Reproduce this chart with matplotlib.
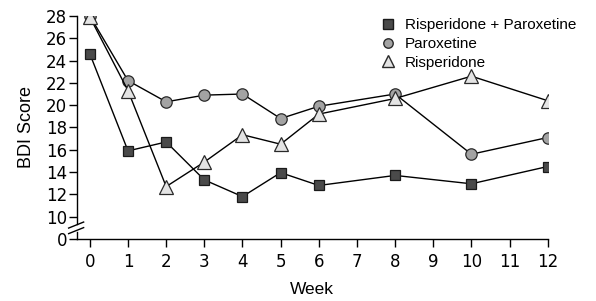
import matplotlib
matplotlib.use("Agg")
import matplotlib.pyplot as plt
from matplotlib.lines import Line2D

plt.rcParams["font.family"] = ["Liberation Sans", "DejaVu Sans"]

# Data
weeks = [0, 1, 2, 3, 4, 5, 6, 8, 10, 12]
combo = [24.6, 15.9, 16.7, 13.3, 11.8, 13.95, 12.8, 13.7, 12.95, 14.5]
parox = [28.0, 22.2, 20.3, 20.9, 21.0, 18.8, 19.9, 21.0, 15.6, 17.1]
risp = [27.9, 21.3, 12.7, 14.9, 17.35, 16.5, 19.2, 20.6, 22.6, 20.4]

labels = ["Risperidone + Paroxetine", "Paroxetine", "Risperidone"]
# y axis is broken: value 0 is drawn at position 8
ytick_pos = [8, 10, 12, 14, 16, 18, 20, 22, 24, 26, 28]
ytick_labels = ["0", "10", "12", "14", "16", "18", "20", "22", "24", "26", "28"]
xticks = list(range(13))

fig = plt.figure(figsize=(5.96, 3.01), dpi=100)
ax = fig.add_axes([0.129, 0.206, 0.790, 0.741])

ax.plot(weeks, combo, color="black", lw=1.0, marker="s", ms=7.8,
        mfc="#4a4a4a", mec="#1a1a1a", mew=0.9, zorder=3)
ax.plot(weeks, parox, color="black", lw=1.0, marker="o", ms=8.2,
        mfc="#a3a3a3", mec="#2a2a2a", mew=0.9, zorder=3)
ax.plot(weeks, risp, color="black", lw=1.0, marker="^", ms=9.5,
        mfc="#e4e4e4", mec="#2a2a2a", mew=0.9, zorder=4)

ax.set_xlim(-0.34, 12)
ax.set_ylim(8, 28)
ax.set_xticks(xticks)
ax.set_yticks(ytick_pos)
ax.set_yticklabels(ytick_labels)
ax.tick_params(axis="both", labelsize=12, labelfontfamily="DejaVu Sans",
               direction="out", length=6, width=1.0, color="black")
ax.tick_params(axis="x", pad=4)
ax.tick_params(axis="y", pad=1)

for s in ["top", "right"]:
    ax.spines[s].set_visible(False)
ax.spines["left"].set_bounds(9.35, 28)
ax.spines["bottom"].set_linewidth(1.0)
ax.spines["left"].set_linewidth(1.0)

# lower piece of the broken y axis and the break marks
trans = ax.get_yaxis_transform()
ax.plot([0, 0], [8, 8.65], color="black", lw=1.0, transform=trans,
        clip_on=False)
dx = 15 / 471.0
for yc in [8.75, 9.25]:
    ax.plot([-dx * 0.55, dx * 0.45], [yc - 0.27, yc + 0.27], color="black",
            lw=1.0, transform=trans, clip_on=False)

ax.set_xlabel("Week", fontsize=12.5, labelpad=8)
ax.set_ylabel("BDI Score", fontsize=13, labelpad=8)

handles = [
    Line2D([], [], ls="none", marker="s", ms=6.5, mfc="#4a4a4a", mec="#1a1a1a"),
    Line2D([], [], ls="none", marker="o", ms=6.8, mfc="#a3a3a3", mec="#2a2a2a"),
    Line2D([], [], ls="none", marker="^", ms=8, mfc="#e4e4e4", mec="#2a2a2a"),
]
ax.legend(handles, labels, loc="upper left", bbox_to_anchor=(0.6476, 0.989),
          frameon=False, fontsize=11, handlelength=0.8, handletextpad=0.7,
          labelspacing=0.3, borderpad=0, borderaxespad=0)

fig.savefig("out.png", dpi=100)
